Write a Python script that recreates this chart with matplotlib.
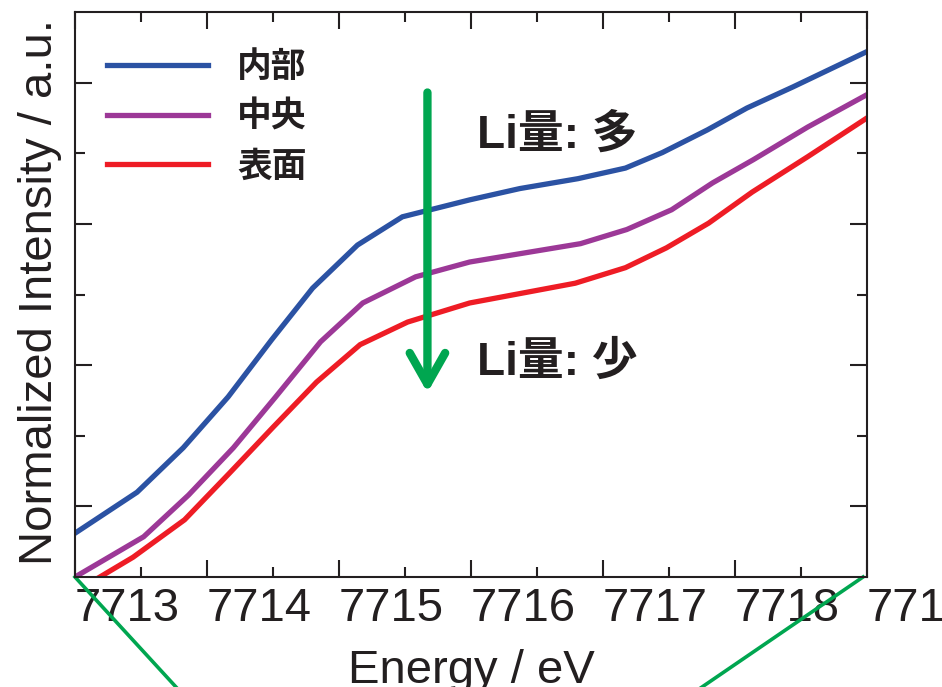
import matplotlib
matplotlib.use('Agg')
import matplotlib.pyplot as plt
from matplotlib.font_manager import FontProperties

plt.rcParams['font.family'] = ['Liberation Sans', 'Noto Sans CJK JP', 'DejaVu Sans']

# ---- data ----
energy_inner = [7713.00, 7713.47, 7713.82, 7714.16, 7714.49, 7714.80, 7715.14, 7715.48,
                7715.99, 7716.37, 7716.81, 7717.17, 7717.45, 7717.79, 7718.09, 7718.44, 7719.00]
intens_inner = [0.62, 1.20, 1.83, 2.55, 3.36, 4.09, 4.70, 5.10,
                5.34, 5.50, 5.64, 5.79, 6.01, 6.33, 6.64, 6.94, 7.44]

energy_center = [7713.00, 7713.52, 7713.86, 7714.20, 7714.52, 7714.86, 7715.18, 7715.58,
                 7715.99, 7716.83, 7717.18, 7717.52, 7717.83, 7718.14, 7718.55, 7719.00]
intens_center = [0.00, 0.57, 1.16, 1.83, 2.55, 3.33, 3.88, 4.25,
                 4.46, 4.72, 4.92, 5.20, 5.58, 5.91, 6.37, 6.83]

energy_surface = [7713.00, 7713.44, 7713.83, 7714.17, 7714.50, 7714.83, 7715.16, 7715.52,
                  7715.99, 7716.79, 7717.17, 7717.48, 7717.80, 7718.13, 7718.55, 7719.00]
intens_surface = [-0.21, 0.28, 0.81, 1.47, 2.12, 2.76, 3.29, 3.61,
                  3.88, 4.16, 4.38, 4.66, 5.01, 5.45, 5.95, 6.50]

series_labels = ['内部', '中央', '表面']
series_colors = ['#2B52A3', '#9C3897', '#EE1C25']

x_major = [7713, 7714, 7715, 7716, 7717, 7718, 7719]
x_labels = ['7713', '7714', '7715', '7716', '7717', '7718', '7719']
x_minor = [7713.5, 7714.5, 7715.5, 7716.5, 7717.5, 7718.5]
y_major = [1, 3, 5, 7]
y_minor = [2, 4, 6]

green = '#00A650'
ink = '#231F20'

fig = plt.figure(figsize=(9.42, 6.87), dpi=100)
ax = fig.add_axes([75/942, 110/687, 792/942, 565/687])

data = [(energy_inner, intens_inner), (energy_center, intens_center), (energy_surface, intens_surface)]
for (ex, iy), lab, col in zip(data, series_labels, series_colors):
    ax.plot(ex, iy, color=col, lw=3.8, label=lab, solid_joinstyle='miter')

ax.set_xlim(7713, 7719)
ax.set_ylim(0, 8)
ax.set_xticks(x_major)
ax.set_xticklabels(x_labels)
for t in ax.get_xticklabels():
    t.set_horizontalalignment('left')
ax.set_xticks(x_minor, minor=True)
ax.set_yticks(y_major)
ax.set_yticks(y_minor, minor=True)
ax.set_yticklabels([])
ax.tick_params(which='both', direction='in', top=True, right=True, width=1.5,
               color=ink, labelsize=34, pad=7, labelcolor=ink)
ax.tick_params(which='major', length=12.5)
ax.tick_params(which='minor', length=7)
for s in ax.spines.values():
    s.set_linewidth(1.5)
    s.set_color(ink)

fig.text(471/942, 1 - 683/687, 'Energy / eV', ha='center', va='baseline', fontsize=34, color=ink)
fig.text(40/942, 1 - 292/687, 'Normalized Intensity / a.u.', rotation=90, ha='center', va='center',
         fontsize=34, color=ink)

leg = ax.legend(loc='upper left', bbox_to_anchor=(0.0404, 0.934), frameon=False,
                handlelength=2.9, handletextpad=0.85, labelspacing=0.42, borderpad=0, borderaxespad=0,
                prop=FontProperties(family=['Noto Sans CJK JP'], weight='bold', size=25))
for t in leg.get_texts():
    t.set_color(ink)

tfont = dict(fontsize=33, fontweight='bold', color=ink, ha='left', va='baseline',
             family=['Liberation Sans', 'Noto Sans CJK JP'])
fig.text(477/942, 1 - 148/687, 'Li量: 多', **tfont)
fig.text(477/942, 1 - 375/687, 'Li量: 少', **tfont)

# green arrow
ax.annotate('', xy=(7715.67, 2.61), xytext=(7715.67, 6.86),
            arrowprops=dict(arrowstyle='->, head_length=1.5, head_width=0.85', lw=6, color=green,
                            mutation_scale=15, shrinkA=0, shrinkB=0))

# green zoom lines leaving the plot
ax.plot([0, 0.1275 * 2], [0, -0.1947 * 2], transform=ax.transAxes, color=green, lw=2.6, clip_on=False)
ax.plot([0.995, 0.995 - (0.995 - 0.7917) * 2], [0, -0.1947 * 2], transform=ax.transAxes,
        color=green, lw=2.6, clip_on=False)

fig.savefig('out.png', dpi=100)
